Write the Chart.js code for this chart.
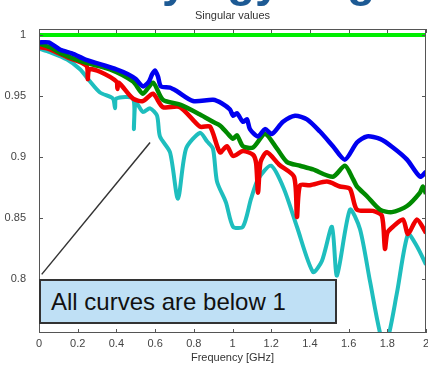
<!DOCTYPE html>
<html>
<head>
<meta charset="utf-8">
<script src="https://cdn.jsdelivr.net/npm/chart.js@4.4.1/dist/chart.umd.min.js"></script>
<style>
  html, body { margin: 0; padding: 0; background: #fff; }
  #wrap { position: relative; width: 428px; height: 366px; overflow: hidden; }
  canvas { position: absolute; left: 0; top: 0; }
  #note {
    position: absolute; left: 39px; top: 279px; width: 284px; height: 41px;
    background: #bfe0f5; border: 2px solid #333;
    font: 24px "Liberation Sans", Arial, sans-serif; color: #111;
    line-height: 41px; padding-left: 10px; box-sizing: content-box;
  }
</style>
</head>
<body>
<div id="wrap">
  <canvas id="chart" width="428" height="366"></canvas>
  <div id="note">All curves are below 1</div>
</div>
<script>
// Frequenz [GHz] und Singulärwerte
const xTicks = [0, 0.2, 0.4, 0.6, 0.8, 1, 1.2, 1.4, 1.6, 1.8, 2];
const yTicks = [0.8, 0.85, 0.9, 0.95, 1];

const limitX = [0, 2];
const limitY = [1, 1];

const blueX = [0, 0.05, 0.11, 0.17, 0.24, 0.32, 0.4, 0.46, 0.5, 0.537, 0.568, 0.585, 0.6, 0.615, 0.63, 0.677, 0.713, 0.796, 0.9, 0.946, 0.987, 1.003, 1.023, 1.054, 1.075, 1.09, 1.132, 1.168, 1.204, 1.261, 1.323, 1.385, 1.452, 1.519, 1.581, 1.643, 1.695, 1.762, 1.829, 1.902, 1.969, 2];
const blueY = [0.994, 0.994, 0.988, 0.985, 0.98, 0.976, 0.972, 0.968, 0.964, 0.958, 0.962, 0.968, 0.971, 0.966, 0.958, 0.957, 0.954, 0.946, 0.947, 0.944, 0.939, 0.934, 0.936, 0.929, 0.931, 0.923, 0.917, 0.923, 0.919, 0.929, 0.934, 0.931, 0.921, 0.909, 0.898, 0.912, 0.917, 0.915, 0.908, 0.898, 0.884, 0.888];

const greenX = [0, 0.057, 0.114, 0.227, 0.367, 0.486, 0.537, 0.589, 0.64, 0.729, 0.832, 0.899, 0.935, 0.971, 1.003, 1.023, 1.054, 1.106, 1.168, 1.23, 1.282, 1.349, 1.416, 1.519, 1.581, 1.623, 1.643, 1.695, 1.762, 1.824, 1.902, 1.969, 1.984, 2];
const greenY = [0.993, 0.99, 0.985, 0.978, 0.972, 0.962, 0.952, 0.961, 0.947, 0.943, 0.935, 0.929, 0.926, 0.92, 0.915, 0.918, 0.909, 0.908, 0.919, 0.907, 0.896, 0.893, 0.89, 0.884, 0.893, 0.882, 0.876, 0.868, 0.857, 0.855, 0.86, 0.871, 0.876, 0.87];

const redX = [0, 0.046, 0.145, 0.245, 0.252, 0.26, 0.315, 0.4, 0.405, 0.412, 0.486, 0.537, 0.589, 0.64, 0.729, 0.832, 0.884, 0.935, 0.971, 1.003, 1.054, 1.106, 1.122, 1.132, 1.145, 1.178, 1.24, 1.318, 1.333, 1.349, 1.4, 1.488, 1.555, 1.607, 1.643, 1.726, 1.772, 1.788, 1.8, 1.829, 1.881, 1.907, 1.953, 2];
const redY = [0.99, 0.989, 0.982, 0.975, 0.964, 0.972, 0.97, 0.962, 0.956, 0.961, 0.948, 0.946, 0.952, 0.941, 0.941, 0.925, 0.925, 0.904, 0.909, 0.901, 0.905, 0.902, 0.895, 0.871, 0.896, 0.904, 0.894, 0.884, 0.851, 0.877, 0.877, 0.88, 0.876, 0.874, 0.857, 0.856, 0.852, 0.825, 0.838, 0.843, 0.849, 0.837, 0.849, 0.838];

const cyanX = [0, 0.057, 0.145, 0.212, 0.264, 0.315, 0.382, 0.393, 0.4, 0.486, 0.49, 0.5, 0.537, 0.574, 0.61, 0.625, 0.677, 0.718, 0.76, 0.832, 0.868, 0.899, 0.92, 0.966, 1.003, 1.054, 1.096, 1.132, 1.199, 1.266, 1.333, 1.416, 1.462, 1.514, 1.54, 1.607, 1.659, 1.711, 1.772, 1.8, 1.85, 1.907, 1.953, 2];
const cyanY = [0.989, 0.986, 0.98, 0.972, 0.962, 0.953, 0.948, 0.94, 0.948, 0.948, 0.923, 0.945, 0.937, 0.94, 0.934, 0.917, 0.904, 0.866, 0.907, 0.92, 0.913, 0.907, 0.88, 0.863, 0.843, 0.843, 0.866, 0.882, 0.893, 0.874, 0.843, 0.806, 0.815, 0.843, 0.803, 0.857, 0.841, 0.798, 0.75, 0.75, 0.789, 0.837, 0.827, 0.812];

// Hinweislinie (Datenkoordinaten)
const pointerX = [0.014, 0.574];
const pointerY = [0.804, 0.912];

// abgeschnittene Folienüberschrift oben (nur Unterlängen sichtbar)
const headParts = ['y', 'gy', 'g'];
const headLeft = [162, 227, 347];

const pts = (xs, ys) => xs.map((x, i) => ({ x: x, y: ys[i] }));

const mkSet = (xs, ys, color, w) => ({
  data: pts(xs, ys),
  borderColor: color,
  borderWidth: w,
  pointRadius: 0,
  tension: 0.25,
  fill: false,
});

const FONT = '"Liberation Sans", Arial, sans-serif';

// Rahmen mit Ticks nach innen (wie MATLAB) + Hinweislinie + Titel
const framePlugin = {
  id: 'frame',
  beforeDraw(chart) {
    const ctx = chart.ctx;
    ctx.save();
    ctx.fillStyle = '#1d5a94';
    ctx.font = 'bold 46px ' + FONT;
    ctx.textAlign = 'left';
    ctx.textBaseline = 'alphabetic';
    headParts.forEach((t, i) => ctx.fillText(t, headLeft[i], -4));
    ctx.restore();
  },
  afterDatasetsDraw(chart) {
    const { ctx, chartArea: a, scales } = chart;
    const sx = scales.x, sy = scales.y;
    ctx.save();
    // pointer line
    ctx.strokeStyle = '#333';
    ctx.lineWidth = 1.5;
    ctx.beginPath();
    ctx.moveTo(sx.getPixelForValue(pointerX[0]), sy.getPixelForValue(pointerY[0]));
    ctx.lineTo(sx.getPixelForValue(pointerX[1]), sy.getPixelForValue(pointerY[1]));
    ctx.stroke();

    ctx.strokeStyle = '#555';
    ctx.lineWidth = 1;
    ctx.strokeRect(a.left + 0.5, a.top + 0.5, a.right - a.left - 1, a.bottom - a.top - 1);
    ctx.beginPath();
    xTicks.forEach(v => {
      const p = Math.round(sx.getPixelForValue(v)) + 0.5;
      ctx.moveTo(p, a.bottom); ctx.lineTo(p, a.bottom - 4);
      ctx.moveTo(p, a.top); ctx.lineTo(p, a.top + 4);
    });
    yTicks.forEach(v => {
      const p = Math.round(sy.getPixelForValue(v)) + 0.5;
      ctx.moveTo(a.left, p); ctx.lineTo(a.left + 4, p);
      ctx.moveTo(a.right, p); ctx.lineTo(a.right - 4, p);
    });
    ctx.stroke();

    ctx.fillStyle = '#333';
    ctx.font = '11px ' + FONT;
    ctx.textAlign = 'center';
    ctx.textBaseline = 'alphabetic';
    ctx.fillText('Singular values', (a.left + a.right) / 2, 19);
    ctx.fillText('Frequency [GHz]', (a.left + a.right) / 2, 361);
    ctx.restore();
  }
};

new Chart(document.getElementById('chart'), {
  type: 'line',
  data: {
    datasets: [
      mkSet(limitX, limitY, '#00ee00', 4),
      mkSet(blueX, blueY, '#0000f0', 4.5),
      mkSet(greenX, greenY, '#008a00', 4.5),
      mkSet(redX, redY, '#f00000', 4.5),
      mkSet(cyanX, cyanY, '#1ebebe', 4),
    ]
  },
  options: {
    responsive: false,
    animation: false,
    layout: { padding: { top: 29, right: 2, left: 0, bottom: 0 } },
    plugins: { legend: { display: false }, tooltip: { enabled: false } },
    scales: {
      x: {
        type: 'linear', min: 0, max: 2,
        afterBuildTicks: s => { s.ticks = xTicks.map(v => ({ value: v })); },
        afterFit: s => { s.height = 33; },
        grid: { display: false },
        border: { display: false },
        ticks: {
          color: '#444', padding: -4, maxRotation: 0,
          font: { family: FONT, size: 11 },
          callback: v => String(v)
        }
      },
      y: {
        type: 'linear', min: 0.756, max: 1.005,
        afterBuildTicks: s => { s.ticks = yTicks.map(v => ({ value: v })); },
        afterFit: s => { s.width = 39; },
        grid: { display: false },
        border: { display: false },
        ticks: {
          color: '#444', padding: 5,
          font: { family: FONT, size: 11 },
          callback: v => String(v)
        }
      }
    }
  },
  plugins: [framePlugin]
});
</script>
</body>
</html>
